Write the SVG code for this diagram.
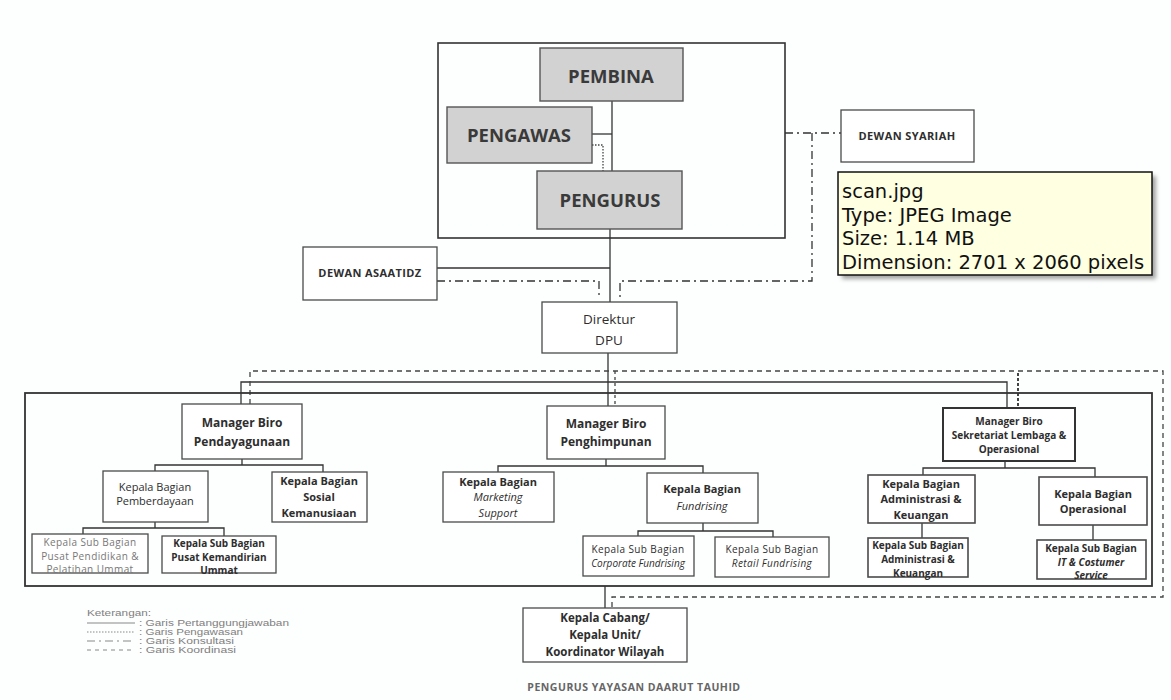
<svg xmlns="http://www.w3.org/2000/svg" width="1171" height="700" viewBox="0 0 1171 700">
  <defs>
    <style>
      .box{fill:#fff;stroke:#4a4a4a;stroke-width:1.3}
      .gbox{fill:#d2d2d2;stroke:#555;stroke-width:1.4}
      .frame{fill:none;stroke:#333;stroke-width:1.6}
      .t{font-family:"Open Sans",Lato,"Liberation Sans",sans-serif;fill:#2e2e2e;text-anchor:middle}
      .b{font-weight:bold}
      .i{font-style:italic}
      .big{font-size:18.5px;font-weight:bold;fill:#3a3a3a}
      .mgr{font-size:12px;font-weight:bold}
      .kb{font-size:11px}
      .sub{font-size:10px;letter-spacing:0.4px}
      .subb{font-size:10px;font-weight:bold}
      .solid{fill:none;stroke:#333;stroke-width:1.3}
      .dot{fill:none;stroke:#444;stroke-width:1.3;stroke-dasharray:1.5 1.5}
      .dashdot{fill:none;stroke:#333;stroke-width:1.3;stroke-dasharray:8 4 2 4}
      .dash{fill:none;stroke:#444;stroke-width:1.3;stroke-dasharray:5 4}
      .leg{font-family:"Liberation Sans",Arial,sans-serif;font-size:8.2px;fill:#808080}
      .legline{stroke:#888;stroke-width:1.2}
      .tip{font-family:"DejaVu Sans",Verdana,sans-serif;font-size:19.5px;fill:#111}
    </style>
    <filter id="shadow" x="-10%" y="-10%" width="130%" height="140%">
      <feGaussianBlur stdDeviation="2"/>
    </filter>
  </defs>

  <rect width="1171" height="700" fill="#fdfefe"/>

  <!-- connectors -->
  <g id="connectors">
    <!-- responsibility lines -->
    <path class="solid" d="M612,101 V171"/>
    <path class="solid" d="M592,134 H612"/>
    <path class="solid" d="M610,229 V302"/>
    <path class="solid" d="M437,268 H610"/>
    <path class="solid" d="M608,353 V406"/>
    <path class="solid" d="M241,404 V382 H1007 V408"/>
    <path class="solid" d="M242,459 V465 M155,471 V465 H323 V472"/>
    <path class="solid" d="M155,522 V528 M83,534 V528 H224 V536"/>
    <path class="solid" d="M606,459 V466 M498,472 V466 H703 V473"/>
    <path class="solid" d="M703,523 V531 M638,536 V531 H773 V537"/>
    <path class="solid" d="M1005,461 V468 M923,475 V468 H1095 V477"/>
    <path class="solid" d="M922,523 V538"/>
    <path class="solid" d="M1093,525 V540"/>
    <path class="solid" d="M605,586 V608"/>
    <!-- supervision line -->
    <path class="dot" d="M592,145 H603 V171"/>
    <!-- consultation lines -->
    <path class="dashdot" d="M785,133 H841"/>
    <path class="dashdot" d="M812,133 V281 H620 V297"/>
    <path class="dashdot" d="M437,281 H599 V297"/>
    <!-- coordination lines -->
    <path class="dash" d="M250,404 V371 H1163 V597 H612 V607"/>
    <path class="dash" d="M615,371 V406" style="stroke-dasharray:3 3"/>
    <path class="dash" d="M1018,373 V408" style="stroke-dasharray:3 2;stroke-width:2"/>
  </g>

  <!-- enclosing frames -->
  <g id="frame-board">
    <rect class="frame" x="438" y="43" width="347" height="195"/>
  </g>
  <g id="frame-bureaus">
    <rect class="frame" x="25" y="393" width="1127" height="193" style="stroke-width:1.8"/>
  </g>

  <!-- board -->
  <g id="pembina">
    <rect class="gbox" x="540" y="48" width="143" height="53"/>
    <text class="t big" x="611" y="83">PEMBINA</text>
  </g>
  <g id="pengawas">
    <rect class="gbox" x="447" y="107" width="145" height="56"/>
    <text class="t big" x="519" y="142">PENGAWAS</text>
  </g>
  <g id="pengurus">
    <rect class="gbox" x="537" y="171" width="145" height="58"/>
    <text class="t big" x="610" y="207">PENGURUS</text>
  </g>

  <g id="dewan-asaatidz">
    <rect class="box" x="303" y="247" width="134" height="53"/>
    <text class="t b" x="370" y="277" style="font-size:11px;letter-spacing:0.4px">DEWAN ASAATIDZ</text>
  </g>
  <g id="dewan-syariah">
    <rect class="box" x="841" y="110" width="133" height="52"/>
    <text class="t b" x="907" y="140" style="font-size:11px;letter-spacing:0.4px">DEWAN SYARIAH</text>
  </g>

  <g id="direktur">
    <rect class="box" x="542" y="302" width="135" height="51"/>
    <text class="t" x="609" y="324" style="font-size:13.5px">Direktur</text>
    <text class="t" x="609" y="345" style="font-size:13.5px">DPU</text>
  </g>

  <!-- Biro Pendayagunaan -->
  <g id="mgr-pendayagunaan">
    <rect class="box" x="182" y="404" width="120" height="55"/>
    <text class="t mgr" x="242" y="427">Manager Biro</text>
    <text class="t mgr" x="242" y="446">Pendayagunaan</text>
  </g>
  <g id="kb-pemberdayaan">
    <rect class="box" x="103" y="471" width="105" height="51"/>
    <text class="t kb" x="155" y="491">Kepala Bagian</text>
    <text class="t kb" x="155" y="505">Pemberdayaan</text>
  </g>
  <g id="kb-sosial">
    <rect class="box" x="272" y="472" width="95" height="50"/>
    <text class="t kb b" x="319" y="485">Kepala Bagian</text>
    <text class="t kb b" x="319" y="501">Sosial</text>
    <text class="t kb b" x="319" y="517">Kemanusiaan</text>
  </g>
  <g id="ksb-pendidikan">
    <rect class="box" x="32" y="534" width="116" height="39"/>
    <text class="t sub" x="90" y="546" style="fill:#777">Kepala Sub Bagian</text>
    <text class="t sub" x="90" y="560" style="fill:#777">Pusat Pendidikan &amp;</text>
    <text class="t sub" x="90" y="573" style="fill:#777">Pelatihan Ummat</text>
  </g>
  <g id="ksb-kemandirian">
    <rect class="box" x="162" y="536" width="114" height="37"/>
    <text class="t subb" x="219" y="547">Kepala Sub Bagian</text>
    <text class="t subb" x="219" y="561">Pusat Kemandirian</text>
    <text class="t subb" x="219" y="574">Ummat</text>
  </g>

  <!-- Biro Penghimpunan -->
  <g id="mgr-penghimpunan">
    <rect class="box" x="547" y="406" width="118" height="53"/>
    <text class="t mgr" x="606" y="428">Manager Biro</text>
    <text class="t mgr" x="606" y="446">Penghimpunan</text>
  </g>
  <g id="kb-marketing">
    <rect class="box" x="443" y="472" width="111" height="50"/>
    <text class="t kb b" x="498" y="486">Kepala Bagian</text>
    <text class="t kb i" x="498" y="501">Marketing</text>
    <text class="t kb i" x="498" y="517">Support</text>
  </g>
  <g id="kb-fundrising">
    <rect class="box" x="647" y="473" width="111" height="50"/>
    <text class="t kb b" x="702" y="493">Kepala Bagian</text>
    <text class="t kb i" x="702" y="510">Fundrising</text>
  </g>
  <g id="ksb-corporate">
    <rect class="box" x="583" y="536" width="111" height="40"/>
    <text class="t sub" x="638" y="553">Kepala Sub Bagian</text>
    <text class="t sub i" x="638" y="567" style="letter-spacing:0">Corporate Fundrising</text>
  </g>
  <g id="ksb-retail">
    <rect class="box" x="715" y="537" width="114" height="40"/>
    <text class="t sub" x="772" y="553">Kepala Sub Bagian</text>
    <text class="t sub i" x="772" y="567">Retail Fundrising</text>
  </g>

  <!-- Biro Sekretariat Lembaga & Operasional -->
  <g id="mgr-sekretariat">
    <rect class="box" x="943" y="408" width="132" height="53" style="stroke-width:2;stroke:#333"/>
    <text class="t b" x="1009" y="425" style="font-size:10px">Manager Biro</text>
    <text class="t b" x="1009" y="439" style="font-size:10px">Sekretariat Lembaga &amp;</text>
    <text class="t b" x="1009" y="453" style="font-size:10px">Operasional</text>
  </g>
  <g id="kb-administrasi">
    <rect class="box" x="868" y="475" width="107" height="48" style="stroke-width:1.6"/>
    <text class="t kb b" x="921" y="488">Kepala Bagian</text>
    <text class="t kb b" x="921" y="503">Administrasi &amp;</text>
    <text class="t kb b" x="921" y="519">Keuangan</text>
  </g>
  <g id="kb-operasional">
    <rect class="box" x="1039" y="477" width="108" height="48" style="stroke-width:1.6"/>
    <text class="t kb b" x="1093" y="498">Kepala Bagian</text>
    <text class="t kb b" x="1093" y="513">Operasional</text>
  </g>
  <g id="ksb-administrasi">
    <rect class="box" x="868" y="538" width="100" height="39" style="stroke-width:1.6"/>
    <text class="t subb" x="918" y="549">Kepala Sub Bagian</text>
    <text class="t subb" x="918" y="563">Administrasi &amp;</text>
    <text class="t subb" x="918" y="577">Keuangan</text>
  </g>
  <g id="ksb-it">
    <rect class="box" x="1037" y="540" width="109" height="39" style="stroke-width:1.6"/>
    <text class="t subb" x="1091" y="552">Kepala Sub Bagian</text>
    <text class="t subb i" x="1091" y="566">IT &amp; Costumer</text>
    <text class="t subb i" x="1091" y="579">Service</text>
  </g>

  <!-- branch level -->
  <g id="kepala-cabang">
    <rect class="box" x="523" y="608" width="164" height="54"/>
    <text class="t b" x="605" y="622" style="font-size:11.5px">Kepala Cabang/</text>
    <text class="t b" x="605" y="639" style="font-size:11.5px">Kepala Unit/</text>
    <text class="t b" x="605" y="656" style="font-size:11.5px">Koordinator Wilayah</text>
  </g>

  <!-- legend -->
  <g id="legend">
    <text class="leg" x="87" y="616" textLength="64" lengthAdjust="spacingAndGlyphs">Keterangan:</text>
    <path class="legline" d="M87,623 H135"/>
    <text class="leg" x="139" y="626" textLength="150" lengthAdjust="spacingAndGlyphs">: Garis Pertanggungjawaban</text>
    <path class="legline" d="M87,632 H135" stroke-dasharray="1.5 1.5"/>
    <text class="leg" x="139" y="635" textLength="104" lengthAdjust="spacingAndGlyphs">: Garis Pengawasan</text>
    <path class="legline" d="M87,641 H135" stroke-dasharray="8 4 2 4"/>
    <text class="leg" x="139" y="644" textLength="95" lengthAdjust="spacingAndGlyphs">: Garis Konsultasi</text>
    <path class="legline" d="M87,650 H135" stroke-dasharray="4 4"/>
    <text class="leg" x="139" y="653" textLength="97" lengthAdjust="spacingAndGlyphs">: Garis Koordinasi</text>
  </g>

  <g id="caption">
    <text class="t b" x="634" y="691" style="font-size:10.5px;letter-spacing:0.5px;fill:#666">PENGURUS YAYASAN DAARUT TAUHID</text>
  </g>

  <!-- file info tooltip -->
  <g id="tooltip">
    <rect x="842" y="176" width="314" height="103" fill="#666" opacity="0.6" filter="url(#shadow)"/>
    <rect x="838" y="172" width="314" height="103" fill="#ffffe1" stroke="#111" stroke-width="1.5"/>
    <text class="tip" x="842" y="198">scan.jpg</text>
    <text class="tip" x="842" y="222">Type: JPEG Image</text>
    <text class="tip" x="842" y="245">Size: 1.14 MB</text>
    <text class="tip" x="842" y="269">Dimension: 2701 x 2060 pixels</text>
  </g>
</svg>
